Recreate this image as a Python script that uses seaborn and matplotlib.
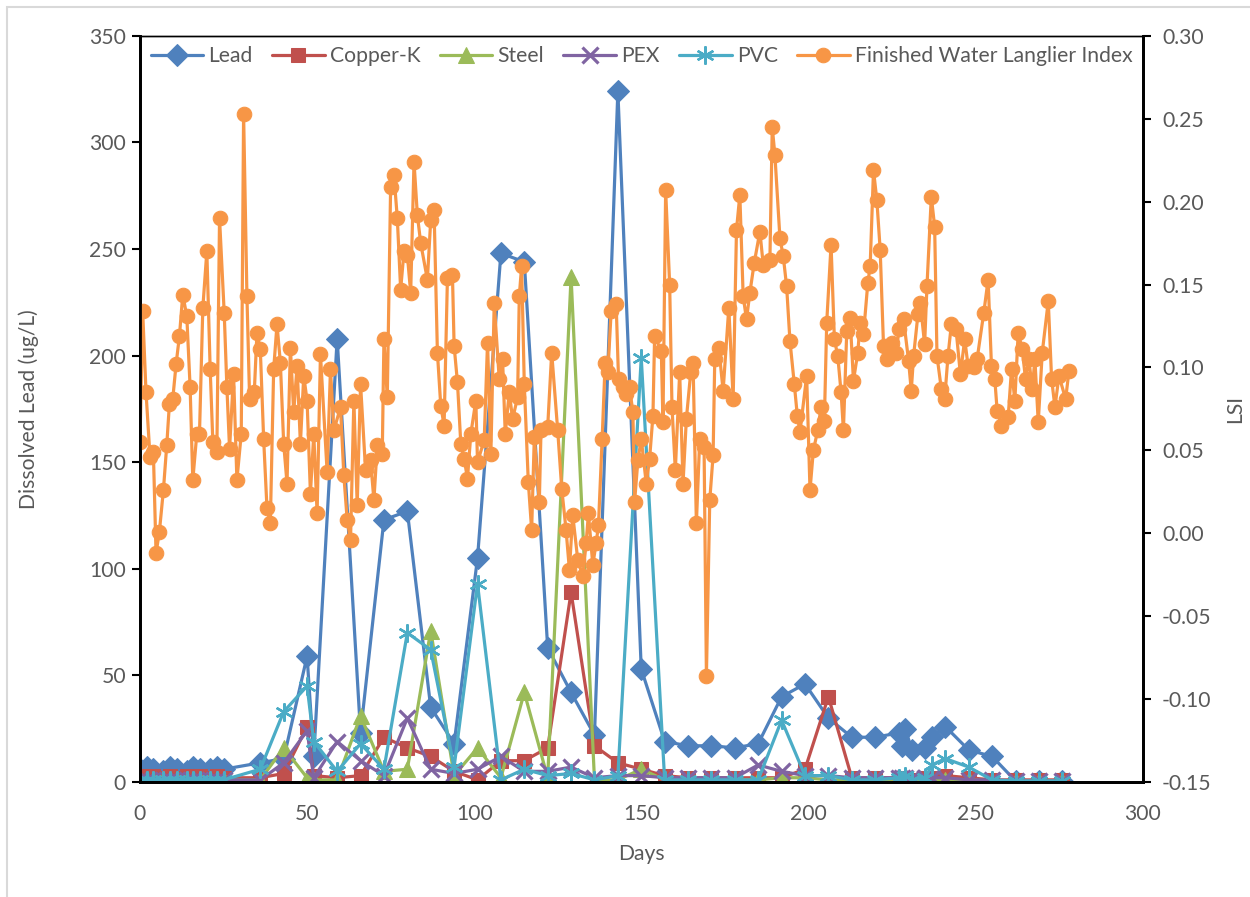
import matplotlib
matplotlib.use("Agg")
import matplotlib.pyplot as plt
import matplotlib.patches as mpatches
import seaborn as sns
import pandas as pd

# ---- sampling days for the pipe rigs ----
pipe_days = [0, 2, 4, 7, 9, 11, 14, 16, 18, 21, 23, 25,
             36, 43, 50, 52, 59, 66, 73, 80, 87, 94,
             101, 108, 115, 122, 129, 136, 143, 150, 157, 164,
             171, 178, 185, 192, 199, 206, 213, 220, 227, 228,
             229, 231, 235, 237, 241, 248, 255, 262, 269, 276]

lead = [6, 7, 6, 5, 7, 6, 5, 7, 6, 6, 7, 6,
        9, 11, 59, 12, 208, 23, 123, 127, 35, 18,
        105, 248, 244, 63, 42, 22, 324, 53, 19, 17,
        17, 16, 18, 40, 46, 30, 21, 21, 23, 17,
        25, 15, 16, 21, 26, 15, 12, 0.5, 0.5, 0.5]

copper = [3, 2, 3, 2, 3, 2, 3, 2, 3, 2, 3, 2,
          2, 4, 26, 3, 2, 3, 21, 16, 12, 5,
          1, 10, 10, 16, 89, 17, 9, 6, 3, 2,
          2, 2, 2, 2, 6, 40, 2, 2, 2, 1,
          1, 1, 2, 2, 3, 2, 1, 1, 1, 1]

steel = [1, 1, 1, 1, 1, 1, 1, 1, 1, 1, 1, 1,
         1, 16, 2, 1, 1, 31, 5, 6, 71, 3,
         16, 2, 42, 2, 237, 1, 1, 6, 1, 1,
         1, 1, 1, 2, 2, 1, 1, 1, 1, 0.5,
         0.5, 0.5, 0.5, 1, 1, 1, 0.5, 0.5, 0.5, 0.5]

pex = [1, 1, 1, 1, 1, 1, 1, 1, 1, 1, 1, 1,
       1, 9, 24, 2, 19, 10, 3, 30, 6, 4,
       6, 12, 5, 5, 7, 2, 3, 3, 2, 2,
       2, 2, 8, 5, 3, 3, 2, 2, 2, 2,
       2, 2, 2, 2, 2, 1, 1, 0.5, 0.5, 0.5]

pvc = [1, 1, 1, 1, 1, 1, 1, 1, 1, 1, 1, 1,
       6, 33, 45, 19, 5, 18, 6, 70, 62, 7,
       93, 1, 6, 3, 4, 1, 3, 199, 1, 1,
       1, 1, 1, 29, 3, 3, 1, 1, 2, 1,
       3, 1, 2, 8, 11, 7, 1, 0.5, 0.5, 0.5]

# ---- finished water Langelier saturation index ----
lsi_days = [0, 0.8, 1.8, 3, 4, 4.8, 5.8, 7, 8, 8.8,
            9.8, 10.8, 11.8, 12.8, 14, 15, 15.8, 17, 17.8, 18.8,
            20, 21, 21.8, 23, 23.8, 25.2, 26, 26.8, 28, 29,
            30.3, 31, 32, 32.8, 34.2, 35, 36, 37, 38, 39,
            40, 41, 42, 43, 44, 45, 46, 47, 48, 49,
            50, 51, 52, 53, 54, 56, 57, 58, 60, 61,
            62, 63, 64, 65, 66, 67.5, 69, 70, 71, 72.5,
            73, 74, 75, 76, 77, 78, 79, 80, 81, 82,
            83, 84, 86, 87, 88, 89, 90, 91, 92, 93.5,
            94, 95, 96, 97, 98, 99, 100.5, 101, 103, 104,
            105, 106, 107.5, 108.5, 109.3, 110.5, 111.5, 113, 113.5, 114.2,
            115, 116.2, 117.2, 118, 119.5, 120, 122, 123.2, 125, 126.2,
            127.5, 128.5, 129.5, 131, 132.5, 133.5, 134.2, 135.5, 136.5, 137.2,
            138.3, 139.2, 140, 141, 142.5, 143.2, 144.5, 145.5, 146.5, 147.5,
            148, 149, 150, 151.5, 152.5, 153.5, 154, 156, 156.5, 157.3,
            158.5, 159.2, 160.2, 161.5, 162.5, 163.5, 164.8, 165.5, 166.5, 167.5,
            168.8, 169.5, 170.5, 171.5, 172, 173.2, 174.5, 176.2, 177.5, 178.5,
            179.5, 180.5, 181.5, 182.5, 183.8, 185.5, 186.5, 188.5, 189.2, 190,
            191.5, 192.5, 193.5, 194.5, 195.8, 196.7, 197.5, 199.5, 200.5, 201.5,
            202.8, 203.8, 204.8, 205.5, 206.8, 207.8, 208.8, 209.8, 210.5, 211.5,
            212.5, 213.5, 214.8, 215.5, 216.5, 217.8, 218.5, 219.5, 220.5, 221.5,
            222.5, 223.5, 225, 226.2, 227.2, 228.5, 230, 230.8, 231.5, 232.8,
            233.5, 234.8, 235.5, 236.8, 237.8, 238.5, 239.8, 240.8, 241.8, 242.8,
            244.2, 245.5, 246.8, 247.8, 249.5, 250.5, 252.5, 253.8, 254.8, 255.8,
            256.5, 257.8, 259.8, 260.8, 261.8, 262.8, 264, 265, 266, 267,
            267.8, 268.8, 270, 271.8, 272.8, 273.8, 275, 277, 278]

lsi = [0.055, 0.134, 0.085, 0.046, 0.049, -0.012, 0.001, 0.026, 0.053, 0.078,
       0.081, 0.102, 0.119, 0.144, 0.131, 0.088, 0.032, 0.060, 0.060, 0.136,
       0.170, 0.099, 0.055, 0.049, 0.190, 0.133, 0.088, 0.051, 0.096, 0.032,
       0.060, 0.253, 0.143, 0.081, 0.085, 0.121, 0.111, 0.057, 0.015, 0.006,
       0.099, 0.126, 0.103, 0.054, 0.030, 0.112, 0.073, 0.101, 0.054, 0.095,
       0.080, 0.024, 0.060, 0.012, 0.108, 0.037, 0.099, 0.062, 0.076, 0.035,
       0.008, -0.004, 0.080, 0.017, 0.090, 0.038, 0.044, 0.020, 0.053, 0.048,
       0.117, 0.082, 0.209, 0.216, 0.190, 0.147, 0.170, 0.168, 0.145, 0.224,
       0.192, 0.175, 0.153, 0.189, 0.195, 0.109, 0.077, 0.065, 0.154, 0.156,
       0.113, 0.091, 0.054, 0.045, 0.033, 0.060, 0.080, 0.043, 0.056, 0.115,
       0.048, 0.139, 0.093, 0.105, 0.060, 0.085, 0.069, 0.082, 0.143, 0.161,
       0.090, 0.031, 0.002, 0.058, 0.019, 0.062, 0.064, 0.109, 0.062, 0.027,
       0.002, -0.022, 0.011, -0.016, -0.026, -0.006, 0.012, -0.019, -0.006, 0.005,
       0.057, 0.103, 0.097, 0.134, 0.138, 0.093, 0.088, 0.084, 0.088, 0.073,
       0.019, 0.044, 0.057, 0.030, 0.045, 0.071, 0.119, 0.110, 0.067, 0.207,
       0.150, 0.076, 0.038, 0.097, 0.030, 0.069, 0.097, 0.103, 0.006, 0.057,
       0.052, -0.086, 0.020, 0.047, 0.105, 0.112, 0.086, 0.136, 0.081, 0.183,
       0.204, 0.143, 0.129, 0.145, 0.163, 0.182, 0.162, 0.165, 0.245, 0.228,
       0.178, 0.167, 0.149, 0.116, 0.090, 0.071, 0.061, 0.095, 0.026, 0.050,
       0.062, 0.076, 0.068, 0.127, 0.174, 0.117, 0.107, 0.085, 0.062, 0.122,
       0.130, 0.092, 0.109, 0.127, 0.120, 0.151, 0.161, 0.219, 0.201, 0.171,
       0.113, 0.105, 0.115, 0.109, 0.123, 0.129, 0.104, 0.086, 0.107, 0.132,
       0.139, 0.114, 0.149, 0.203, 0.185, 0.107, 0.087, 0.081, 0.107, 0.126,
       0.123, 0.096, 0.117, 0.101, 0.100, 0.105, 0.133, 0.153, 0.101, 0.093,
       0.074, 0.065, 0.070, 0.099, 0.080, 0.121, 0.111, 0.093, 0.105, 0.087,
       0.105, 0.067, 0.109, 0.140, 0.093, 0.076, 0.095, 0.081, 0.098]

pipe_df = pd.DataFrame({"Days": pipe_days, "Lead": lead, "Copper-K": copper,
                        "Steel": steel, "PEX": pex, "PVC": pvc})
lsi_df = pd.DataFrame({"Days": lsi_days, "LSI": lsi})

sns.set_style("white")
plt.rcParams["font.family"] = ["Lato", "DejaVu Sans"]

TXT = "#595959"
FS = 15.2

fig = plt.figure(figsize=(12.5, 8.97), dpi=100)
ax = fig.add_axes([0.112, 0.1282, 0.802, 0.8318])

# light chart-area frame
fig.patches.append(mpatches.Rectangle((7 / 1250, -0.05), 1.2, 1 - 7 / 897 + 0.05,
                                      transform=fig.transFigure, fill=False,
                                      edgecolor="#d9d9d9", linewidth=1.5, zorder=0))

styles = [
    ("Lead", "#4F81BD", dict(marker="D", markersize=11)),
    ("Copper-K", "#C0504D", dict(marker="s", markersize=10.5)),
    ("Steel", "#9BBB59", dict(marker="^", markersize=12)),
    ("PEX", "#8064A2", dict(marker="x", markersize=11, markeredgewidth=2.3)),
    ("PVC", "#4BACC6", dict(marker=(6, 2, 0), markersize=13, markeredgewidth=1.7)),
]
for name, col, mk in styles:
    sns.lineplot(data=pipe_df, x="Days", y=name, ax=ax, color=col, linewidth=2.3,
                 estimator=None, sort=False, label=name,
                 markeredgecolor=col, markerfacecolor=col, **mk)

ax2 = ax.twinx()
sns.lineplot(data=lsi_df, x="Days", y="LSI", ax=ax2, color="#F79646", linewidth=2.3,
             estimator=None, sort=False, marker="o", markersize=10.5,
             markeredgecolor="#F79646", markerfacecolor="#F79646",
             label="Finished Water Langlier Index")

ax.set_xlim(0, 300)
ax.set_ylim(0, 350)
ax2.set_ylim(-0.15, 0.30)
ax.set_xticks(range(0, 301, 50))
ax.set_yticks(range(0, 351, 50))
lsi_ticks = [-0.15, -0.10, -0.05, 0.0, 0.05, 0.10, 0.15, 0.20, 0.25, 0.30]
ax2.set_yticks(lsi_ticks)
ax2.set_yticklabels([f"{v:.2f}" for v in lsi_ticks])

ax.set_xlabel("Days", fontsize=FS, color=TXT, labelpad=14)
ax.set_ylabel("Dissolved Lead (ug/L)", fontsize=FS, color=TXT, labelpad=36)
ax2.set_ylabel("LSI", fontsize=FS, color=TXT, labelpad=10)

for a in (ax, ax2):
    a.tick_params(axis="both", labelsize=FS, labelcolor=TXT, color="black",
                  direction="out", length=6, width=1.5)
    for side in ("left", "right", "bottom"):
        a.spines[side].set_color("black")
        a.spines[side].set_linewidth(2.0)
    a.spines["top"].set_color("black")
    a.spines["top"].set_linewidth(1.0)
    a.grid(False)
ax.tick_params(axis="x", pad=10)
ax.tick_params(axis="y", pad=4)
ax2.tick_params(axis="y", pad=8)

h1, l1 = ax.get_legend_handles_labels()
h2, l2 = ax2.get_legend_handles_labels()
ax.get_legend().remove()
ax2.get_legend().remove()
leg = ax2.legend(h1 + h2, l1 + l2, loc="upper left", bbox_to_anchor=(0.0, 1.0),
                 ncol=6, frameon=False, fontsize=FS, handlelength=2.5,
                 handletextpad=0.25, columnspacing=0.9, borderaxespad=0.3,
                 borderpad=0.2)
for t in leg.get_texts():
    t.set_color(TXT)

fig.savefig("out.png", dpi=100)
